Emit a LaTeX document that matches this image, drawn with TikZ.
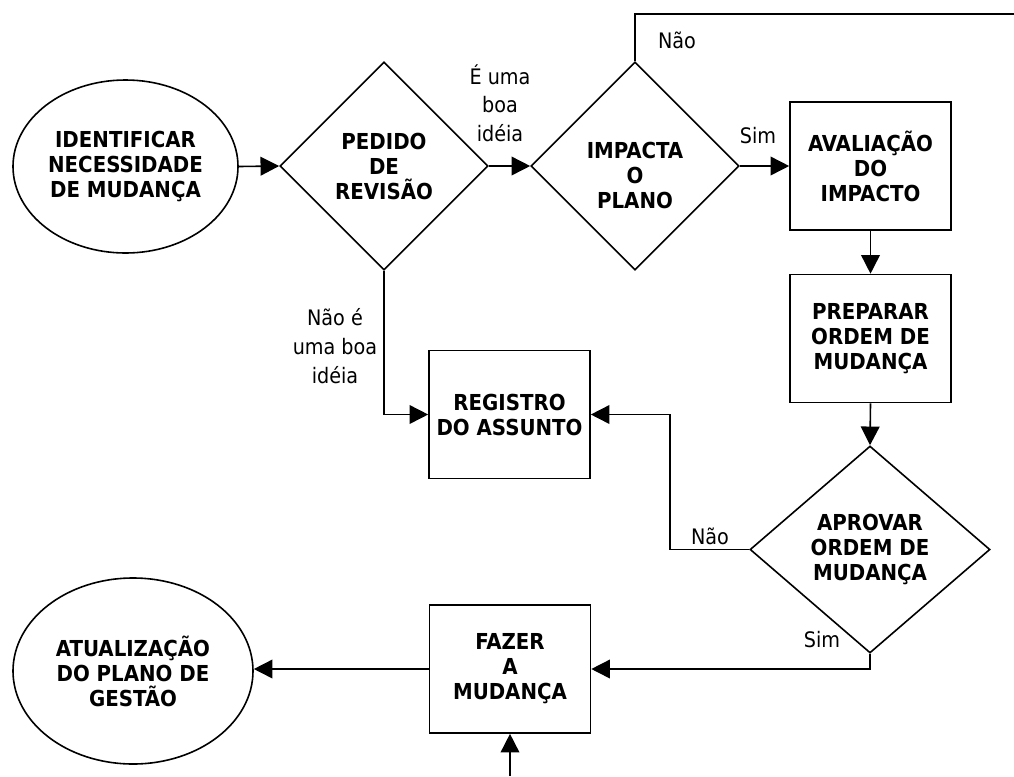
\documentclass[tikz,border=0pt]{standalone}
\usepackage{fontspec}
\setmainfont{DejaVu Sans Condensed}
\usetikzlibrary{shapes.geometric,arrows.meta}

\tikzset{
  flow/.style={line width=1.2pt},
  tri/.style={-{Triangle[length=14pt,width=14pt]}},
  boldtxt/.style={font=\bfseries\fontsize{16.5}{18.75}\selectfont, align=center},
  lbl/.style={font=\fontsize{16}{21.5}\selectfont, align=center, inner sep=0pt},
  terminal/.style={ellipse, draw, flow, inner sep=0pt, boldtxt},
  stepbox/.style={rectangle, draw, flow, inner sep=0pt, minimum width=120.75pt, minimum height=96pt, boldtxt},
  decision/.style={diamond, draw, flow, inner sep=0pt, boldtxt}
}

\begin{document}
\begin{tikzpicture}[x=0.75pt, y=-0.75pt]
  \useasboundingbox (0,0) rectangle (1014,776);

  % process nodes
  \node[terminal, minimum width=168.75pt, minimum height=129.75pt] (ident) at (125.5,166.5)
       {IDENTIFICAR\\NECESSIDADE\\DE MUDANÇA};
  \node[decision, minimum width=156pt, minimum height=156pt] (ped) at (384,166)
       {PEDIDO\\DE\\REVISÃO};
  \node[decision, minimum width=156pt, minimum height=156pt] (imp) at (635,166) {};
  \node[boldtxt] (impT) at (635,175) {IMPACTA\\O\\PLANO};
  \node[stepbox] (aval) at (870.5,166) {AVALIAÇÃO\\DO\\IMPACTO};
  \node[stepbox] (prep) at (870.5,338.5) {PREPARAR\\ORDEM DE\\MUDANÇA};
  \node[decision, minimum width=180pt, minimum height=155.25pt] (aprov) at (870,549.5)
       {APROVAR\\ORDEM DE\\MUDANÇA};
  \node[stepbox] (reg) at (509.5,414.5) {REGISTRO\\DO ASSUNTO};
  \node[stepbox] (faz) at (510,669) {FAZER\\A\\MUDANÇA};
  \node[terminal, minimum width=180pt, minimum height=139.5pt] (atual) at (133,671)
       {ATUALIZAÇÃO\\DO PLANO DE\\GESTÃO};

  % free ends and bends
  \coordinate (topR) at (1014,14);
  \coordinate (bendA) at (670,549.5);
  \coordinate (botIn) at (510,776);

  % connectors
  \draw[flow, tri] (ident.east) -- (ped.west);
  \draw[flow, tri] (ped.east) -- (imp.west);
  \draw[flow] (imp.north) |- (topR);
  \draw[flow, tri] (imp.east) -- (aval.west);
  \draw[flow, tri] (aval.south) -- (prep.north);
  \draw[flow, tri] (prep.south) -- (aprov.north);
  \draw[flow, tri] (ped.south) |- (reg.west);
  \draw[flow, tri] (aprov.west) -- (bendA) |- (reg.east);
  \draw[flow, tri] (aprov.south) |- (faz.east);
  \draw[flow, tri] (faz.west) -- (faz.west -| atual.east);
  \draw[flow, tri] (botIn) -- (faz.south);

  % connector labels
  \node[lbl] (lGood) at (500,103) {É uma\\boa\\idéia};
  \node[lbl] (lNo1) at (677,40) {Não};
  \node[lbl] (lYes1) at (758,136) {Sim};
  \node[lbl] (lBad) at (335,346) {Não é\\uma boa\\idéia};
  \node[lbl] (lNo2) at (710,536) {Não};
  \node[lbl] (lYes2) at (822,640) {Sim};
\end{tikzpicture}
\end{document}
